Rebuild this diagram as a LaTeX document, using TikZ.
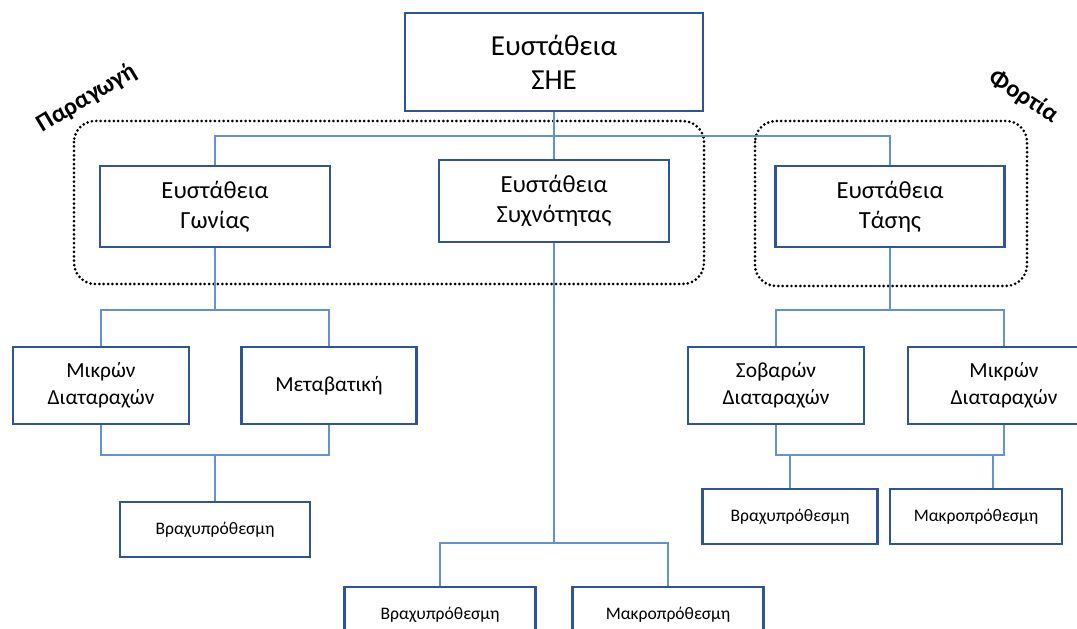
\documentclass[tikz,border=0pt]{standalone}
\usepackage{fontspec}
\setmainfont{Carlito}
\definecolor{boxblue}{RGB}{47,85,151}
\definecolor{lineblue}{RGB}{98,146,210}

\begin{document}
\begin{tikzpicture}[x=0.02cm,y=-0.02cm,
  box/.style={draw=boxblue,line width=1.6pt,fill=white,align=center,inner sep=2pt},
  conn/.style={lineblue,line width=0.9pt},
  group/.style={line width=1.7pt,dash pattern=on 0pt off 2.5pt,line cap=round,rounded corners=12pt},
  tag/.style={font=\fontsize{14}{16}\selectfont\bfseries}]
  \useasboundingbox (0,0) rectangle (1077,628);
  \clip (0,0) rectangle (1077,628);
  \fill[white] (0,0) rectangle (1077,628);

  % groups
  \draw[group] (74,121) rectangle (704,284);
  \draw[group] (755,121) rectangle (1027,286);
  \node[tag,rotate=31] (parag) at (87,98) {Παραγωγή};
  \node[tag,rotate=-33] (fort) at (1024,97) {Φορτία};

  % bus points
  \coordinate (bus1) at (554,136);
  \coordinate (bus2) at (215,310);
  \coordinate (bus3) at (215,455);
  \coordinate (bus4) at (554,543);
  \coordinate (bus5) at (890,310);
  \coordinate (bus6) at (890,455);
  \coordinate (tap1) at (790,455);
  \coordinate (tap2) at (993,455);

  \node[box,minimum width=5.96cm,minimum height=1.96cm,font=\fontsize{16.5}{19.5}\selectfont] (she) at (554,62) {Ευστάθεια\\ΣΗΕ};
  \node[box,minimum width=4.6cm,minimum height=1.62cm,font=\fontsize{14}{17}\selectfont] (gon) at (215,206.5) {Ευστάθεια\\Γωνίας};
  \node[box,minimum width=4.6cm,minimum height=1.64cm,font=\fontsize{14}{17}\selectfont] (syx) at (554,201) {Ευστάθεια\\Συχνότητας};
  \node[box,minimum width=4.58cm,minimum height=1.62cm,font=\fontsize{14}{17}\selectfont] (tas) at (890,206.5) {Ευστάθεια\\Τάσης};

  \node[box,minimum width=3.52cm,minimum height=1.54cm,font=\fontsize{12.2}{15.3}\selectfont] (mik1) at (101,385.5) {Μικρών\\Διαταραχών};
  \node[box,minimum width=3.5cm,minimum height=1.54cm,font=\fontsize{12.2}{15.3}\selectfont] (met) at (329,385.5) {Μεταβατική};
  \node[box,minimum width=3.52cm,minimum height=1.54cm,font=\fontsize{12.2}{15.3}\selectfont] (sob) at (776,385.5) {Σοβαρών\\Διαταραχών};
  \node[box,minimum width=3.84cm,minimum height=1.54cm,font=\fontsize{12.2}{15.3}\selectfont] (mik2) at (1004,385.5) {Μικρών\\Διαταραχών};

  \node[box,minimum width=3.8cm,minimum height=1.1cm,font=\fontsize{10}{12}\selectfont] (vra1) at (215,529.5) {Βραχυπρόθεσμη};
  \node[box,minimum width=3.82cm,minimum height=1.1cm,font=\fontsize{10}{12}\selectfont] (vra2) at (440,614.5) {Βραχυπρόθεσμη};
  \node[box,minimum width=3.82cm,minimum height=1.1cm,font=\fontsize{10}{12}\selectfont] (mak2) at (668,614.5) {Μακροπρόθεσμη};
  \node[box,minimum width=3.5cm,minimum height=1.1cm,font=\fontsize{10}{12}\selectfont] (vra3) at (790,516.5) {Βραχυπρόθεσμη};
  \node[box,minimum width=3.44cm,minimum height=1.1cm,font=\fontsize{10}{12}\selectfont] (mak3) at (976,516.5) {Μακροπρόθεσμη};

  % connectors
  \draw[conn] (she.south) -- (syx.north);
  \draw[conn] (gon.north) |- (bus1) -| (tas.north);
  \draw[conn] (gon.south) -- (bus2);
  \draw[conn] (mik1.north) |- (bus2) -| (met.north);
  \draw[conn] (mik1.south) |- (bus3) -| (met.south);
  \draw[conn] (bus3) -- (vra1.north);
  \draw[conn] (syx.south) -- (bus4);
  \draw[conn] (vra2.north) |- (bus4) -| (mak2.north);
  \draw[conn] (tas.south) -- (bus5);
  \draw[conn] (sob.north) |- (bus5) -| (mik2.north);
  \draw[conn] (sob.south) |- (bus6) -| (mik2.south);
  \draw[conn] (tap1) -- (vra3.north);
  \draw[conn] (tap2) -- (tap2 |- mak3.north);
\end{tikzpicture}
\end{document}
